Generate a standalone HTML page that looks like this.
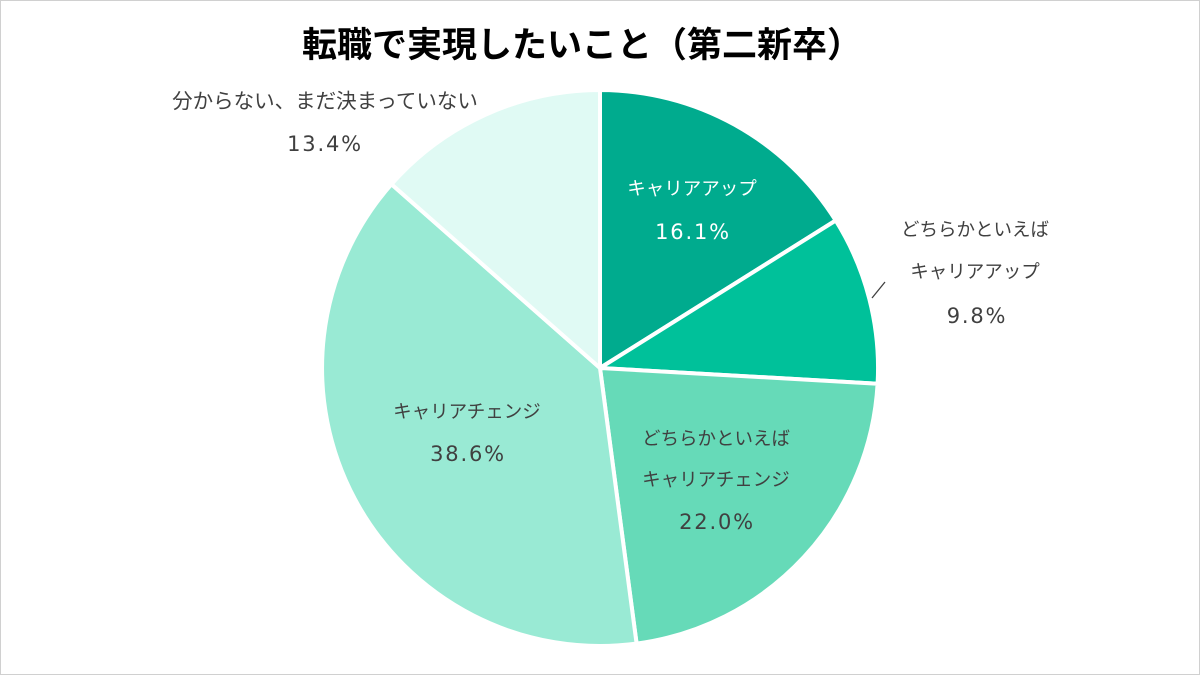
<!DOCTYPE html>
<html><head><meta charset="utf-8"><style>
body{margin:0;background:#fff;}
.wrap{width:1198px;height:673px;border:1px solid #d0d0d0;position:relative;overflow:hidden;}
svg text{font-family:"Liberation Sans","Noto Sans CJK JP",sans-serif;}
svg text.n{font-family:"DejaVu Sans",sans-serif;letter-spacing:1.8px;font-size:21px;}
</style></head><body><div class="wrap">
<svg width="1198" height="673" viewBox="1 1 1198 673" xmlns="http://www.w3.org/2000/svg">
<g stroke="#fff" stroke-width="4" stroke-linejoin="round">
<path d="M600,368 L600,90 A278,278 0 0 1 835.7,220.5 Z" fill="#00AB8E"/>
<path d="M600,368 L835.7,220.5 A278,278 0 0 1 877.6,383.7 Z" fill="#00C19A"/>
<path d="M600,368 L877.6,383.7 A278,278 0 0 1 636.6,643.6 Z" fill="#66DAB8"/>
<path d="M600,368 L636.6,643.6 A278,278 0 0 1 391.5,184.2 Z" fill="#99EAD4"/>
<path d="M600,368 L391.5,184.2 A278,278 0 0 1 600,90 Z" fill="#E0FAF4"/>
</g>
<line x1="872" y1="298" x2="885" y2="282" stroke="#404040" stroke-width="1.3"/>
<text x="582" y="57" text-anchor="middle" font-size="35" font-weight="bold" fill="#000">転職で実現したいこと（第二新卒）</text>
<g font-size="18.5" text-anchor="middle">
<text x="692" y="195" fill="#fff">キャリアアップ</text>
<text class="n" x="693" y="239" fill="#fff">16.1%</text>
<text x="975" y="236" fill="#404040">どちらかといえば</text>
<text x="975" y="278" fill="#404040">キャリアアップ</text>
<text class="n" x="977" y="323" fill="#404040">9.8%</text>
<text x="716" y="445" fill="#404040">どちらかといえば</text>
<text x="716" y="486" fill="#404040">キャリアチェンジ</text>
<text class="n" x="717" y="529" fill="#404040">22.0%</text>
<text x="467" y="418" fill="#404040">キャリアチェンジ</text>
<text class="n" x="468" y="461" fill="#404040">38.6%</text>
<text x="325" y="108" fill="#404040" font-size="20.5">分からない、まだ決まっていない</text>
<text class="n" x="325" y="151" fill="#404040">13.4%</text>
</g>
</svg></div></body></html>
